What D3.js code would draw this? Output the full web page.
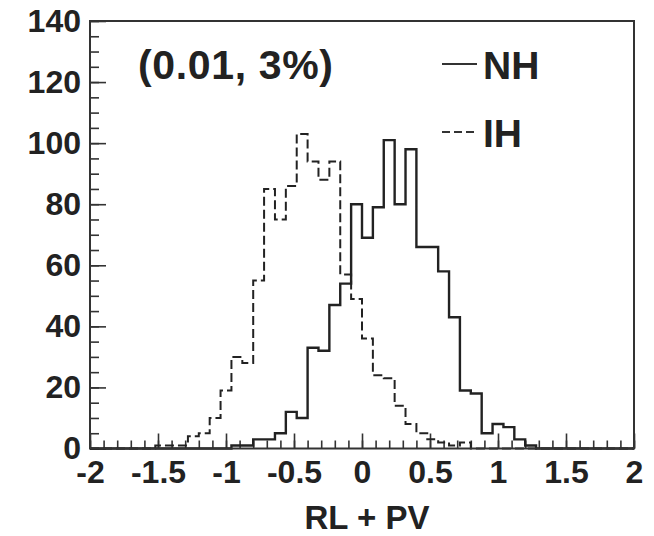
<!DOCTYPE html>
<html>
<head>
<meta charset="utf-8">
<script src="https://cdn.jsdelivr.net/npm/d3@7"></script>
<style>
  body { margin: 0; background: #fff; }
  svg text { font-family: "Liberation Sans", Arial, sans-serif; font-weight: bold; fill: #222; }
</style>
</head>
<body>
<svg id="chart"></svg>
<script>
// histogram binning: 50 bins of 0.08 from -2 to 2
const binStart = -2;
const binWidth = 0.08;

// NH counts (solid)
const nhCounts = [
  0, 0, 0, 0, 0, 0, 0, 0, 0, 0,
  0, 0, 0, 1, 1, 3, 3, 5, 12, 10,
  33, 32, 47, 54, 80, 69, 79, 101, 80, 98,
  66, 66, 58, 43, 19, 18, 5, 8, 7, 3,
  1, 0, 0, 0, 0, 0, 0, 0, 0, 0
];

// IH counts (dashed)
const ihCounts = [
  0, 0, 0, 0, 0, 0, 1, 1, 1, 4,
  5, 10, 19, 30, 28, 55, 85, 75, 86, 103,
  94, 88, 94, 57, 49, 36, 24, 23, 14, 8,
  5, 3, 2, 1, 2, 0, 0, 0, 0, 0,
  0, 0, 0, 0, 0, 0, 0, 0, 0, 0
];

const xTicks = [-2, -1.5, -1, -0.5, 0, 0.5, 1, 1.5, 2];
const xTickLabels = ["-2", "-1.5", "-1", "-0.5", "0", "0.5", "1", "1.5", "2"];
const yTicks = [0, 20, 40, 60, 80, 100, 120, 140];
const legendItems = ["NH", "IH"];
const annotation = "(0.01, 3%)";
const xTitle = "RL + PV";

const width = 654, height = 536;
const margin = { top: 21, right: 20, bottom: 87.5, left: 90 };

const svg = d3.select("#chart").attr("width", width).attr("height", height);

const x = d3.scaleLinear().domain([-2, 2]).range([margin.left, width - margin.right]);
const y = d3.scaleLinear().domain([0, 140]).range([height - margin.bottom, margin.top]);

// minor ticks
const xMinor = d3.range(-2, 2.0001, 0.1).map(v => +v.toFixed(2));
const yMinor = d3.range(0, 140.001, 5);

svg.append("g")
  .attr("transform", `translate(0,${y(0)})`)
  .call(d3.axisBottom(x).tickValues(xMinor).tickSize(-8).tickFormat(""))
  .call(g => g.select(".domain").remove())
  .selectAll("line").attr("stroke", "#333").attr("stroke-width", 1.6);

svg.append("g")
  .attr("transform", `translate(${x(-2)},0)`)
  .call(d3.axisLeft(y).tickValues(yMinor).tickSize(-9).tickFormat(""))
  .call(g => g.select(".domain").remove())
  .selectAll("line").attr("stroke", "#333").attr("stroke-width", 1.6);

const xAxis = svg.append("g")
  .attr("transform", `translate(0,${y(0)})`)
  .call(d3.axisBottom(x).tickValues(xTicks).tickSize(-15).tickPadding(12)
    .tickFormat((d, i) => xTickLabels[i]));
xAxis.select(".domain").remove();
xAxis.selectAll("line").attr("stroke", "#333").attr("stroke-width", 1.6);
xAxis.selectAll("text").style("font-size", "32px").attr("fill", "#222");

const yAxis = svg.append("g")
  .attr("transform", `translate(${x(-2)},0)`)
  .call(d3.axisLeft(y).tickValues(yTicks).tickSize(-16).tickPadding(9));
yAxis.select(".domain").remove();
yAxis.selectAll("line").attr("stroke", "#333").attr("stroke-width", 1.6);
yAxis.selectAll("text").style("font-size", "32px").attr("fill", "#222");

// histogram outlines
function stepPoints(counts) {
  const pts = counts.map((c, i) => [binStart + i * binWidth, c]);
  pts.push([binStart + counts.length * binWidth, counts[counts.length - 1]]);
  return pts;
}
const line = d3.line().x(d => x(d[0])).y(d => y(d[1])).curve(d3.curveStepAfter);

svg.append("path")
  .datum(stepPoints(ihCounts))
  .attr("d", line)
  .attr("fill", "none")
  .attr("stroke", "#222")
  .attr("stroke-width", 2)
  .attr("stroke-dasharray", "9,4");

svg.append("path")
  .datum(stepPoints(nhCounts))
  .attr("d", line)
  .attr("fill", "none")
  .attr("stroke", "#222")
  .attr("stroke-width", 2.4);

// frame
svg.append("rect")
  .attr("x", x(-2)).attr("y", y(140))
  .attr("width", x(2) - x(-2)).attr("height", y(0) - y(140))
  .attr("fill", "none").attr("stroke", "#333").attr("stroke-width", 2);

// annotation
svg.append("text")
  .attr("x", 138).attr("y", 79)
  .style("font-size", "41px")
  .attr("textLength", 195)
  .text(annotation);

// legend
const legend = svg.append("g");
legendItems.forEach((name, i) => {
  const ly = 64 + i * 68;
  legend.append("line")
    .attr("x1", 442).attr("x2", 477).attr("y1", ly).attr("y2", ly)
    .attr("stroke", "#333").attr("stroke-width", 2)
    .attr("stroke-dasharray", i === 1 ? "8,4" : null);
  legend.append("text")
    .attr("x", 483).attr("y", ly + 15)
    .style("font-size", "39px")
    .text(name);
});

// x title
svg.append("text")
  .attr("x", (x(-2) + x(2)) / 2 + 5).attr("y", 529)
  .attr("text-anchor", "middle")
  .style("font-size", "33px")
  .text(xTitle);
</script>
</body>
</html>
